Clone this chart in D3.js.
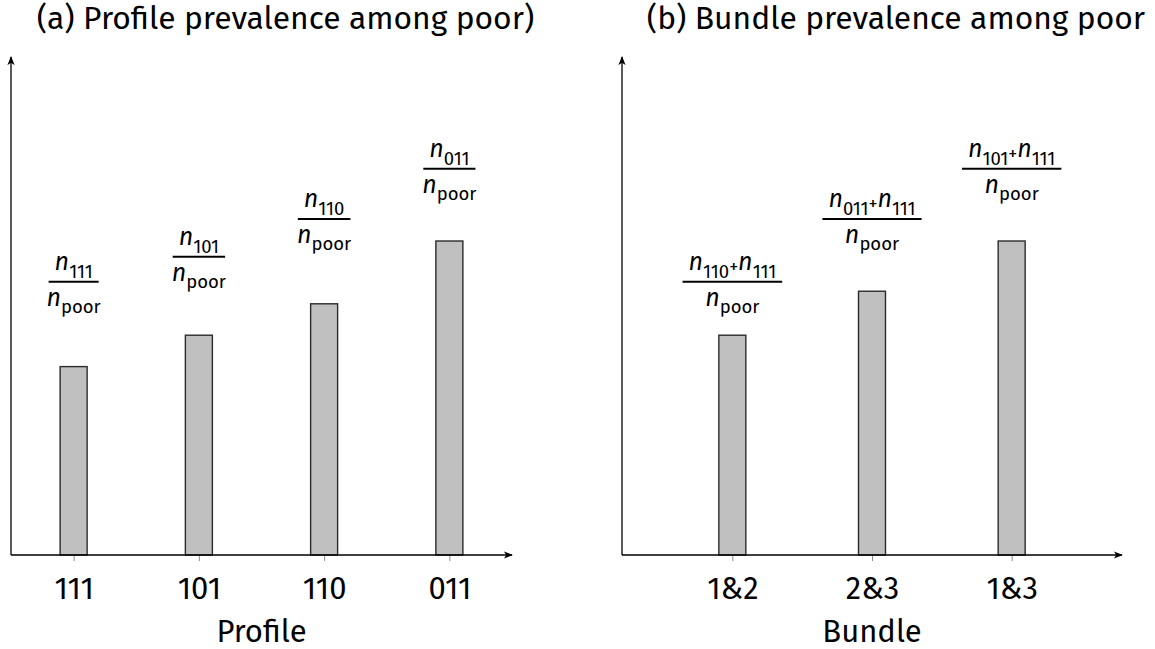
<!DOCTYPE html>
<html>
<head>
<meta charset="utf-8">
<script src="https://cdn.jsdelivr.net/npm/d3@7"></script>
<style>
  html, body { margin: 0; padding: 0; background: #fff; }
  svg { display: block; }
  text { font-family: "Fira Sans", "Open Sans", "Noto Sans", sans-serif; fill: #000; }
</style>
</head>
<body>
<svg id="chart" width="1155" height="649"></svg>
<script>
// ---- data ----
const profileCategories = ["111", "101", "110", "011"];
const profileValues = [3.0, 3.5, 4.0, 5.0];
const profileNumerators = [["111"], ["101"], ["110"], ["011"]];
const profileNoteAt = [4.35, 4.75, 5.35, 6.15];

const bundleCategories = ["1&2", "2&3", "1&3"];
const bundleValues = [3.5, 4.2, 5.0];
const bundleNumerators = [["110", "111"], ["011", "111"], ["101", "111"]];
const bundleNoteAt = [4.35, 5.35, 6.15];

const yMax = 7.93;

const svg = d3.select("#chart");

// arrow head for the axis lines
const defs = svg.append("defs");
defs.append("marker")
  .attr("id", "arrow")
  .attr("viewBox", "0 0 10 10")
  .attr("refX", 9).attr("refY", 5)
  .attr("markerUnits", "userSpaceOnUse")
  .attr("markerWidth", 9).attr("markerHeight", 9)
  .attr("orient", "auto")
  .append("path")
  .attr("d", "M0,1 L10,5 L0,9 L2.5,5 Z")
  .attr("fill", "#000");

function drawPanel(opts) {
  const { categories, values, numerators, noteAt, x0, x1, padding, title, xLabel } = opts;
  const yBottom = 555, yTop = 57;

  const x = d3.scalePoint().domain(categories).range([x0, x1]).padding(padding);
  const y = d3.scaleLinear().domain([0, yMax]).range([yBottom, yTop]);

  const g = svg.append("g");

  // title
  g.append("text")
    .attr("x", (x0 + x1) / 2 + 24)
    .attr("y", 29)
    .attr("text-anchor", "middle")
    .attr("font-size", 31.8)
    .text(title);

  // category axis (ticks + labels)
  const axis = d3.axisBottom(x).tickSize(6).tickSizeOuter(0).tickPadding(10);
  const ax = g.append("g").attr("transform", `translate(0,${yBottom})`).call(axis);
  ax.select(".domain").remove();
  ax.selectAll(".tick line").attr("stroke", "#8c8c8c").attr("stroke-width", 1);
  ax.selectAll(".tick text")
    .attr("font-size", 31)
    .attr("font-family", "'Fira Sans', 'Open Sans', sans-serif")
    .attr("dy", null)
    .attr("y", 44)
    .attr("fill", "#000");

  // bars
  const bw = 27;
  g.selectAll("rect.bar")
    .data(values)
    .join("rect")
    .attr("class", "bar")
    .attr("x", (d, i) => x(categories[i]) - bw / 2)
    .attr("y", d => y(d))
    .attr("width", bw)
    .attr("height", d => yBottom - y(d))
    .attr("fill", "#c0c0c0")
    .attr("stroke", "#2b2b2b")
    .attr("stroke-width", 1.4);

  // axis lines with arrows
  g.append("line")
    .attr("x1", x0).attr("y1", yBottom)
    .attr("x2", x1).attr("y2", yBottom)
    .attr("stroke", "#000").attr("stroke-width", 1.3)
    .attr("marker-end", "url(#arrow)");
  g.append("line")
    .attr("x1", x0).attr("y1", yBottom)
    .attr("x2", x0).attr("y2", yTop)
    .attr("stroke", "#000").attr("stroke-width", 1.3)
    .attr("marker-end", "url(#arrow)");

  // axis title
  g.append("text")
    .attr("x", x(categories[0]) + (x(categories[categories.length - 1]) - x(categories[0])) / 2)
    .attr("y", 642)
    .attr("text-anchor", "middle")
    .attr("font-size", 31)
    .text(xLabel);

  // fraction annotations
  numerators.forEach((terms, i) => {
    const cx = x(categories[i]);
    const ly = y(noteAt[i]);
    const note = g.append("g");

    const num = note.append("text")
      .attr("x", cx).attr("y", ly - 12)
      .attr("text-anchor", "middle");
    terms.forEach((t, k) => {
      if (k > 0) {
        num.append("tspan").attr("font-size", 18).attr("dy", -5).text("+");
        num.append("tspan").attr("font-size", 25).attr("font-style", "italic").attr("dy", -3).text("n");
      } else {
        num.append("tspan").attr("font-size", 25).attr("font-style", "italic").text("n");
      }
      num.append("tspan").attr("font-size", 18.5).attr("dy", 8).text(t);
    });

    const w = num.node().getComputedTextLength();
    note.append("line")
      .attr("x1", cx - w / 2 - 6).attr("x2", cx + w / 2 + 6)
      .attr("y1", ly).attr("y2", ly)
      .attr("stroke", "#000").attr("stroke-width", 2);

    const den = note.append("text")
      .attr("x", cx).attr("y", ly + 24)
      .attr("text-anchor", "middle");
    den.append("tspan").attr("font-size", 25).attr("font-style", "italic").text("n");
    den.append("tspan").attr("font-size", 18.5).attr("dy", 7).text("poor");
  });
}

drawPanel({
  categories: profileCategories,
  values: profileValues,
  numerators: profileNumerators,
  noteAt: profileNoteAt,
  x0: 11, x1: 512, padding: 0.5,
  title: "(a) Profile prevalence among poor)",
  xLabel: "Profile"
});

drawPanel({
  categories: bundleCategories,
  values: bundleValues,
  numerators: bundleNumerators,
  noteAt: bundleNoteAt,
  x0: 622, x1: 1122, padding: 0.79,
  title: "(b) Bundle prevalence among poor",
  xLabel: "Bundle"
});
</script>
</body>
</html>
